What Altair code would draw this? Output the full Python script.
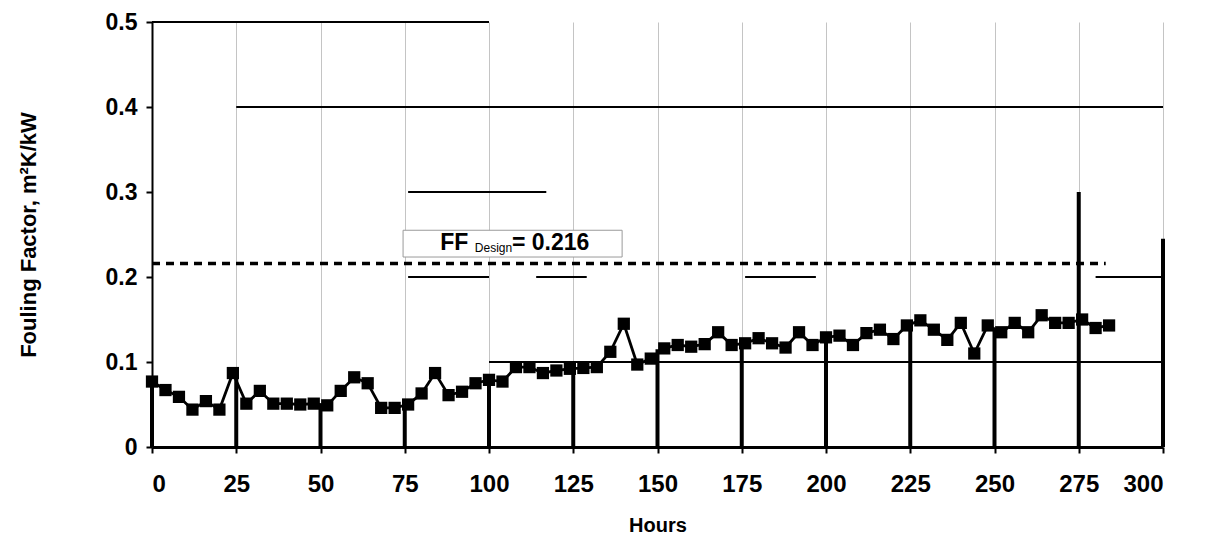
import altair as alt
import pandas as pd

# ---- data ----
hours = [0, 4, 8, 12, 16, 20, 24, 28, 32, 36, 40, 44, 48, 52, 56, 60, 64, 68,
         72, 76, 80, 84, 88, 92, 96, 100, 104, 108, 112, 116, 120, 124, 128, 132,
         136, 140, 144, 148, 152, 156, 160, 164, 168, 172, 176, 180, 184, 188,
         192, 196, 200, 204, 208, 212, 216, 220, 224, 228, 232, 236, 240, 244,
         248, 252, 256, 260, 264, 268, 272, 276, 280, 284]
ff = [0.077, 0.067, 0.059, 0.044, 0.054, 0.044, 0.087, 0.051, 0.066, 0.051,
      0.051, 0.050, 0.051, 0.049, 0.066, 0.082, 0.075, 0.046, 0.046, 0.050,
      0.063, 0.087, 0.061, 0.065, 0.075, 0.079, 0.077, 0.094, 0.094, 0.087,
      0.090, 0.092, 0.093, 0.094, 0.112, 0.145, 0.097, 0.104, 0.116, 0.120,
      0.118, 0.121, 0.135, 0.120, 0.122, 0.128, 0.122, 0.117, 0.135, 0.120,
      0.129, 0.131, 0.120, 0.134, 0.138, 0.127, 0.143, 0.149, 0.138, 0.126,
      0.146, 0.110, 0.143, 0.135, 0.146, 0.135, 0.155, 0.146, 0.146, 0.150,
      0.140, 0.143]

x_ticks = [0, 25, 50, 75, 100, 125, 150, 175, 200, 225, 250, 275, 300]
y_ticks = [0, 0.1, 0.2, 0.3, 0.4, 0.5]

ff_design = 0.216
ff_design_end = 283

# dark vertical strokes seen below the curve at the grid positions
drop_hours = [0, 25, 50, 75, 100, 125, 150, 175, 200, 225, 250, 275, 300]
drop_tops = [0.077, 0.086, 0.050, 0.050, 0.079, 0.092, 0.115, 0.122, 0.129,
             0.143, 0.140, 0.300, 0.245]

# partially visible horizontal grid strokes
seg_start = [25, 76, 76, 114, 176, 280, 100, 0]
seg_end = [300, 117, 100, 129, 197, 300, 300, 100]
seg_level = [0.4, 0.3, 0.2, 0.2, 0.2, 0.2, 0.1, 0.5]

FONT = "Liberation Sans"

series = pd.DataFrame({"Hours": hours, "FF": ff})
drops = pd.DataFrame({"h": drop_hours, "top": drop_tops})
segs = pd.DataFrame({"x1": seg_start, "x2": seg_end, "y": seg_level})
design = pd.DataFrame({"x1": [0], "x2": [ff_design_end], "y": [ff_design]})
one = pd.DataFrame({"a": [0]})

xscale = alt.Scale(domain=[0, 300], nice=False)
yscale = alt.Scale(domain=[0, 0.5], nice=False)

x_axis = alt.Axis(values=x_ticks, grid=True, gridColor="#c4c4c4", gridWidth=1,
                  domainColor="black", domainWidth=3, tickColor="black",
                  tickWidth=2, tickSize=6, labelFont=FONT, labelFontSize=24,
                  labelFontWeight="bold", labelColor="black", labelPadding=19,
                  title="Hours", titleFont=FONT, titleFontSize=20,
                  titleFontWeight="bold", titleColor="black", titlePadding=19)
y_axis = alt.Axis(values=y_ticks, grid=False, domainColor="black",
                  domainWidth=2, tickColor="black", tickWidth=2, tickSize=6,
                  labelFont=FONT, labelFontSize=23, labelFontWeight="bold",
                  labelColor="black", labelPadding=9,
                  labelExpr="datum.value == 0 ? '0' : format(datum.value, '.1f')",
                  title="Fouling Factor, m²K/kW", titleFont=FONT,
                  titleFontSize=22, titleFontWeight="bold", titleColor="black",
                  titlePadding=65)


def X(field=None, datum=None):
    if datum is not None:
        return alt.X(datum=datum, scale=xscale, axis=x_axis)
    return alt.X(field, type="quantitative", scale=xscale, axis=x_axis)


def Y(field=None, datum=None):
    if datum is not None:
        return alt.Y(datum=datum, scale=yscale, axis=y_axis)
    return alt.Y(field, type="quantitative", scale=yscale, axis=y_axis)


line = alt.Chart(series).mark_line(color="black", strokeWidth=2.8).encode(
    x=X("Hours"), y=Y("FF"),
)

drop_layer = alt.Chart(drops).mark_rule(color="black", strokeWidth=4).encode(
    x=X("h"), y=Y("top"), y2=alt.Y2(datum=0),
)

seg_layer = alt.Chart(segs).mark_rule(color="black", strokeWidth=2).encode(
    x=X("x1"), x2="x2:Q", y=Y("y"),
)

design_layer = alt.Chart(design).mark_rule(
    color="black", strokeWidth=3.5, strokeDash=[8, 6]
).encode(x=X("x1"), x2="x2:Q", y=Y("y"))

box = alt.Chart(one).mark_rect(fill="white", stroke="#9a9a9a", strokeWidth=1).encode(
    x=X(datum=74.5), x2=alt.X2(datum=139.5),
    y=Y(datum=0.2235), y2=alt.Y2(datum=0.255),
)

t_ff = alt.Chart(one).mark_text(align="left", baseline="middle", font=FONT,
                                fontSize=23, fontWeight="bold", color="black").encode(
    x=X(datum=85.5), y=Y(datum=0.2405), text=alt.value("FF"))
t_sub = alt.Chart(one).mark_text(align="left", baseline="middle", font=FONT,
                                 fontSize=12, color="black").encode(
    x=X(datum=95.8), y=Y(datum=0.2345), text=alt.value("Design"))
t_val = alt.Chart(one).mark_text(align="left", baseline="middle", font=FONT,
                                 fontSize=23, fontWeight="bold", color="black").encode(
    x=X(datum=106.8), y=Y(datum=0.2405), text=alt.value("= 0.216"))

points = alt.Chart(series).mark_point(
    shape="square", filled=True, color="black", size=150, opacity=1
).encode(x=X("Hours"), y=Y("FF"))

chart = alt.layer(
    line, seg_layer, drop_layer, design_layer, box, t_ff, t_sub, t_val, points
).properties(
    width=1011, height=425,
    autosize=alt.AutoSizeParams(type="none"),
    padding={"left": 144, "top": 14, "right": 30, "bottom": 88},
    background="white",
).configure_view(stroke=None)

chart.save("out.html", embed_options={"renderer": "svg", "actions": False})
